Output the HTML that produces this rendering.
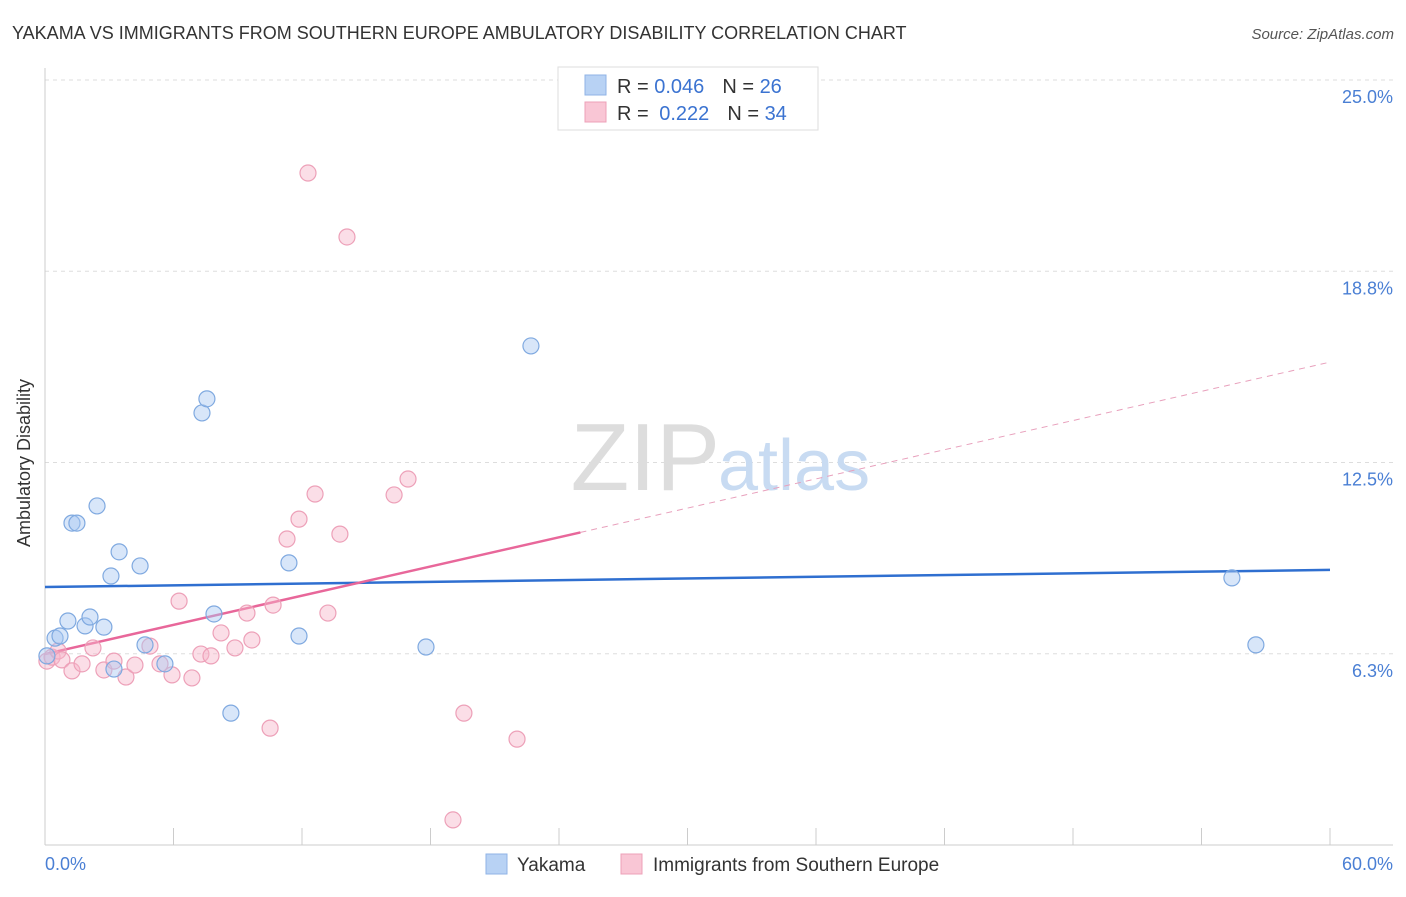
<!DOCTYPE html>
<html><head><meta charset="utf-8"><style>
body{margin:0;background:#fff;font-family:"Liberation Sans",sans-serif;}
svg text{font-family:"Liberation Sans",sans-serif;}
</style></head><body>
<svg width="1406" height="892" xmlns="http://www.w3.org/2000/svg">
<text x="12" y="39" font-size="18" fill="#333">YAKAMA VS IMMIGRANTS FROM SOUTHERN EUROPE AMBULATORY DISABILITY CORRELATION CHART</text>
<text x="1394" y="39" font-size="15" fill="#555" font-style="italic" text-anchor="end">Source: ZipAtlas.com</text>
<g id="grid"></g>
<text x="720" y="490" font-size="96" font-family="Liberation Serif" fill="#ddd" text-anchor="end">ZIP</text>
<text x="718" y="490" font-size="72" fill="#c8dbf2">atlas</text>
<line x1="45" y1="68" x2="45" y2="845" stroke="#ccc"/>
<line x1="45" y1="845" x2="1393" y2="845" stroke="#ccc"/>
<text x="22" y="455" font-size="18" fill="#333" transform="rotate(-90 30 455)" text-anchor="middle">Ambulatory Disability</text>
<text x="45" y="870" font-size="18" fill="#4a7fd4">0.0%</text>
<text x="1393" y="870" font-size="18" fill="#4a7fd4" text-anchor="end">60.0%</text>
<g id="lines"></g>
<g id="pts"></g>
<g>
<rect x="558" y="67" width="260" height="63" fill="#fff" stroke="#ddd"/>
<rect x="585" y="75" width="21" height="20" fill="#b8d2f4" stroke="#8fb3e6"/>
<rect x="585" y="102" width="21" height="20" fill="#f9c6d5" stroke="#eda0b8"/>
<text x="617" y="93" font-size="20" fill="#333">R = <tspan fill="#3b73d1">0.046</tspan><tspan dx="18">N = </tspan><tspan fill="#3b73d1">26</tspan></text>
<text x="617" y="120" font-size="20" fill="#333">R = <tspan dx="5" fill="#3b73d1">0.222</tspan><tspan dx="18">N = </tspan><tspan fill="#3b73d1">34</tspan></text>
</g>
<g>
<rect x="486" y="854" width="21" height="20" fill="#b8d2f4" stroke="#8fb3e6"/>
<text x="517" y="871" font-size="19" fill="#333">Yakama</text>
<rect x="621" y="854" width="21" height="20" fill="#f9c6d5" stroke="#eda0b8"/>
<text x="653" y="871" font-size="19" fill="#333">Immigrants from Southern Europe</text>
</g>
</svg>
<script>
const yTicks=[25,18.75,12.5,6.25];
const yTickLabels=["25.0%","18.8%","12.5%","6.3%"];
const xTicks=[0,6,12,18,24,30,36,42,48,54,60];
const blueX=[0.09,0.47,0.70,1.07,1.26,1.49,1.87,2.10,2.43,2.75,3.08,3.22,3.46,4.44,4.67,5.60,7.33,7.56,7.89,8.68,11.39,11.86,17.79,22.69,55.42,56.54];
const blueY=[6.18,6.76,6.83,7.32,10.52,10.52,7.16,7.45,11.08,7.12,8.79,5.75,9.58,9.12,6.54,5.92,14.12,14.58,7.55,4.31,9.22,6.83,6.47,16.31,8.73,6.54];
const pinkX=[0.09,0.33,0.61,0.79,1.26,1.73,2.24,2.75,3.22,3.78,4.20,4.90,5.37,5.93,6.26,6.86,7.28,7.75,8.22,8.87,9.43,9.66,10.51,10.65,11.30,11.86,12.28,12.61,13.21,13.77,14.10,16.30,16.95,19.05,19.56,22.04];
const pinkY=[6.01,6.14,6.34,6.05,5.69,5.92,6.44,5.72,6.01,5.49,5.88,6.50,5.92,5.56,7.97,5.46,6.24,6.18,6.93,6.44,7.58,6.70,3.82,7.84,10.00,10.65,21.96,11.47,7.58,10.16,19.87,11.44,11.96,0.82,4.31,3.46];
const blueTrend=[8.43,8.99];
const pinkTrend=[6.24,15.78];
const pinkSolidEnd=25;
const NS="http://www.w3.org/2000/svg";
const sx=v=>45+v*(1285/60);
const sy=v=>80+(25-v)*30.6;
function mk(t,a,p){const e=document.createElementNS(NS,t);for(const k in a)e.setAttribute(k,a[k]);p.appendChild(e);return e;}
const grid=document.getElementById('grid');
yTicks.forEach((v,i)=>{
 const l=mk('line',{x1:45,x2:1393,y1:sy(v),y2:sy(v),stroke:'#ddd','stroke-dasharray':'4 4'},grid);
 
 
 const t=mk('text',{x:1393,y:sy(v)+23,'font-size':18,fill:'#4a7fd4','text-anchor':'end'},grid);
 t.textContent=yTickLabels[i];
 
 
});
xTicks.forEach(v=>{
 const l=mk('line',{x1:sx(v),x2:sx(v),y1:828,y2:845,stroke:'#ccc'},grid);
 
 
});
const lines=document.getElementById('lines');
let b=mk('line',{x1:sx(0),y1:sy(blueTrend[0]),x2:sx(60),y2:sy(blueTrend[1]),stroke:'#2f6fd0','stroke-width':2.5},lines);


const pAt=x=>pinkTrend[0]+(pinkTrend[1]-pinkTrend[0])*x/60;
let p1=mk('line',{x1:sx(0),y1:sy(pAt(0)),x2:sx(pinkSolidEnd),y2:sy(pAt(pinkSolidEnd)),stroke:'#e8679a','stroke-width':2.5},lines);


let p2=mk('line',{x1:sx(pinkSolidEnd),y1:sy(pAt(pinkSolidEnd)),x2:sx(60),y2:sy(pAt(60)),stroke:'#e8a0bc','stroke-width':1,'stroke-dasharray':'6 5'},lines);


const pts=document.getElementById('pts');
pinkX.forEach((x,i)=>{
 const c=mk('circle',{cx:sx(x),cy:sy(pinkY[i]),r:8,fill:'rgba(246,182,202,0.45)',stroke:'#eda0b8','stroke-width':1.2},pts);
 
 
});
blueX.forEach((x,i)=>{
 const c=mk('circle',{cx:sx(x),cy:sy(blueY[i]),r:8,fill:'rgba(168,200,242,0.45)',stroke:'#7fa9e0','stroke-width':1.2},pts);
 
 
});
</script>
</body></html>
